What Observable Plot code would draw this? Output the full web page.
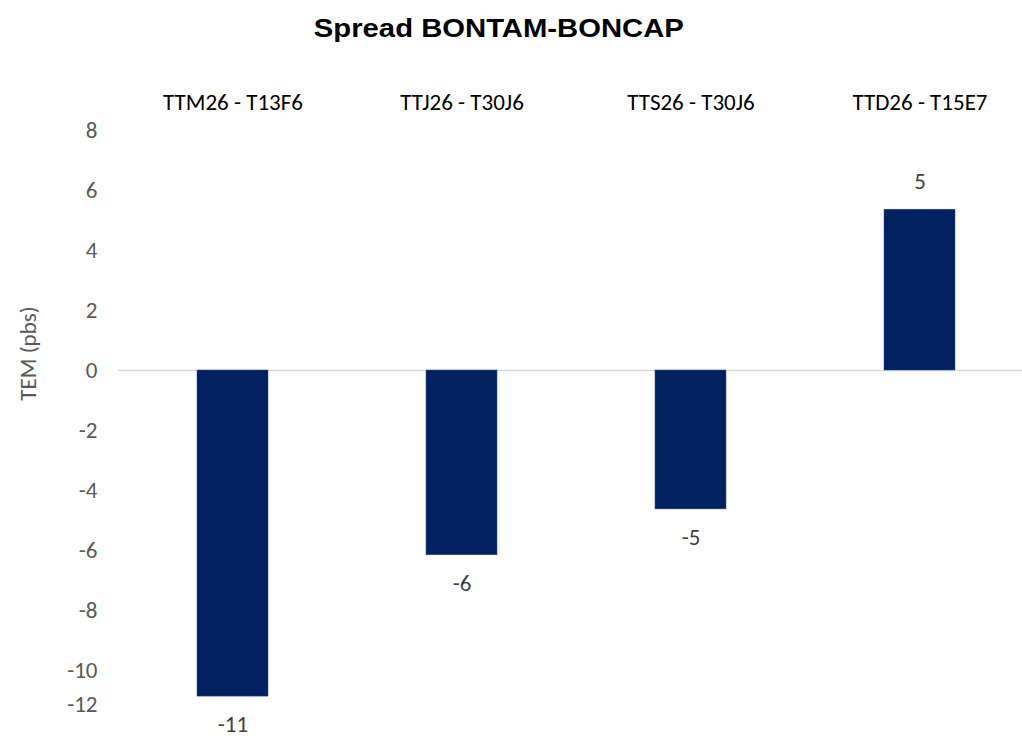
<!DOCTYPE html>
<html>
<head>
<meta charset="utf-8">
<script src="https://cdn.jsdelivr.net/npm/d3@7"></script>
<script src="https://cdn.jsdelivr.net/npm/@observablehq/plot@0.6"></script>
<style>
  html, body { margin: 0; padding: 0; background: #fff; }
  #wrap { width: 1022px; height: 741px; overflow: hidden; position: relative; }
  #title {
    position: absolute; left: 0; top: 0; width: 998px; height: 56px; line-height: 56px;
    text-align: center; font-family: "Liberation Sans", Arial, sans-serif; font-weight: bold;
    font-size: 25px; color: #000; transform: scaleX(1.17); transform-origin: 500px 0;
  }
  #chart { position: absolute; left: 0; top: 56px; }
</style>
</head>
<body>
<div id="wrap">
  <div id="title">Spread BONTAM-BONCAP</div>
  <div id="chart"></div>
</div>
<script>
const categories = ["TTM26 - T13F6", "TTJ26 - T30J6", "TTS26 - T30J6", "TTD26 - T15E7"];
const spreads = [-10.87, -6.16, -4.63, 5.36];
const valueLabels = ["-11", "-6", "-5", "5"];
const yTicks = [-10, -8, -6, -4, -2, 0, 2, 4, 6, 8];
const yLastTick = [-12];
const yLabel = "TEM (pbs)";

const data = categories.map((c, i) => ({cat: c, v: spreads[i], label: valueLabels[i]}));
const font = "Carlito, Calibri, Lato, sans-serif";
const fmt = d => String(d);

const chart = Plot.plot({
  width: 1022,
  height: 685,
  marginLeft: 118,
  marginRight: 0,
  marginTop: 74,
  marginBottom: 11,
  style: {fontFamily: font, fontSize: "23px", background: "transparent"},
  x: {domain: categories, range: [118, 1034], paddingInner: 0.69, paddingOuter: 0.345},
  y: {domain: [-12, 8], range: [674, 74]},
  marks: [
    Plot.ruleY([0], {stroke: "#d9d9d9", strokeWidth: 1.5}),
    Plot.barY(data, {x: "cat", y: "v", fill: "#002060", stroke: "#2f4f8f", strokeWidth: 0.5}),
    Plot.text(data.filter(d => d.v < 0), {x: "cat", y: "v", text: "label", dy: 28, fill: "#404040", fontSize: 23}),
    Plot.text(data.filter(d => d.v >= 0), {x: "cat", y: "v", text: "label", dy: -28, fill: "#404040", fontSize: 23}),
    Plot.axisX({anchor: "top", tickSize: 0, tickPadding: 21, label: null, fill: "#000", fontSize: 23}),
    Plot.axisY(yTicks, {tickSize: 0, tickPadding: 21, label: null, fill: "#595959", fontSize: 23, tickFormat: fmt}),
    Plot.axisY(yLastTick, {tickSize: 0, tickPadding: 21, label: null, fill: "#595959", fontSize: 23, tickFormat: fmt, dy: -26}),
    Plot.text([yLabel], {frameAnchor: "left", textAnchor: "middle", rotate: -90, dx: -90, dy: -77, fill: "#595959", fontSize: 23})
  ]
});
document.getElementById("chart").appendChild(chart);
</script>
</body>
</html>
